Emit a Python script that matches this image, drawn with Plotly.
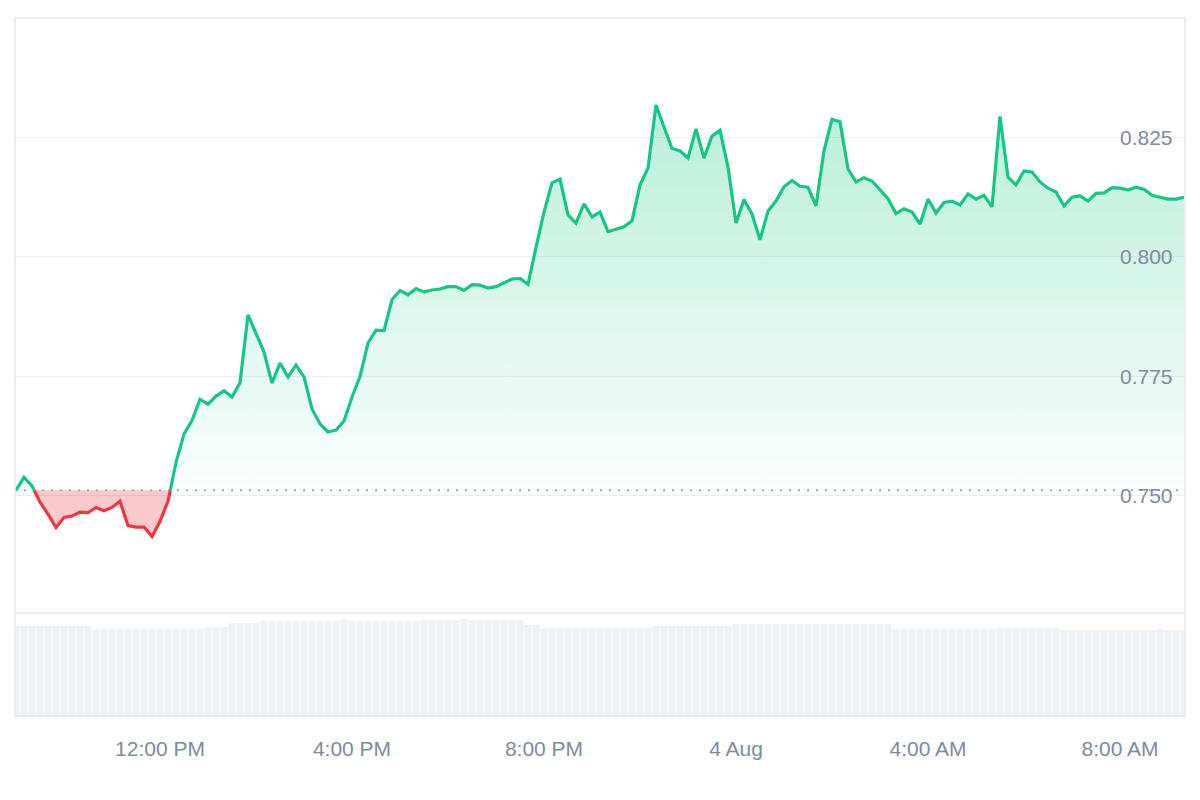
import pandas as pd
import plotly.graph_objects as go

# ---------------- data ----------------
start_time = "2024-08-03 09:00"
interval = "10min"

prices = [
    0.7511, 0.7538, 0.7520, 0.7486, 0.7461, 0.7433, 0.7454, 0.7457, 0.7465, 0.7464,
    0.7475, 0.7468, 0.7475, 0.7488, 0.7437, 0.7434, 0.7434, 0.7414, 0.7446, 0.7488,
    0.7569, 0.7629, 0.7657, 0.7701, 0.7691, 0.7708, 0.7719, 0.7706, 0.7736, 0.7878,
    0.7838, 0.7800, 0.7735, 0.7777, 0.7748, 0.7773, 0.7748, 0.7681, 0.7650, 0.7633,
    0.7637, 0.7656, 0.7706, 0.7749, 0.7819, 0.7846, 0.7845, 0.7910, 0.7929, 0.7920,
    0.7933, 0.7926, 0.7930, 0.7932, 0.7937, 0.7937, 0.7929, 0.7941, 0.7940, 0.7934,
    0.7937, 0.7945, 0.7953, 0.7954, 0.7942, 0.8019, 0.8093, 0.8154, 0.8162, 0.8087,
    0.8070, 0.8110, 0.8083, 0.8093, 0.8052, 0.8057, 0.8062, 0.8075, 0.8150, 0.8185,
    0.8317, 0.8271, 0.8226, 0.8221, 0.8206, 0.8267, 0.8206, 0.8252, 0.8264, 0.8187,
    0.8070, 0.8119, 0.8089, 0.8035, 0.8095, 0.8116, 0.8146, 0.8159, 0.8147, 0.8145,
    0.8106, 0.8221, 0.8287, 0.8282, 0.8183, 0.8156, 0.8165, 0.8158, 0.8139, 0.8121,
    0.8090, 0.8100, 0.8093, 0.8068, 0.8120, 0.8091, 0.8113, 0.8116, 0.8108, 0.8131,
    0.8120, 0.8128, 0.8104, 0.8293, 0.8166, 0.8150, 0.8179, 0.8177, 0.8156, 0.8143,
    0.8135, 0.8106, 0.8124, 0.8127, 0.8116, 0.8132, 0.8133, 0.8144, 0.8143, 0.8139,
    0.8145, 0.8141, 0.8128, 0.8124, 0.8120, 0.8120, 0.8124,
]

volumes = [
    9.0, 9.0, 9.0, 9.0, 9.0, 9.0, 9.0, 9.0, 9.0, 9.0,
    8.7, 8.7, 8.7, 8.7, 8.7, 8.7, 8.7, 8.7, 8.7, 8.7, 8.7, 8.7, 8.7, 8.7,
    8.9, 8.9, 8.9,
    9.3, 9.3, 9.3, 9.3,
    9.5, 9.5, 9.5, 9.5, 9.5, 9.5, 9.5, 9.5, 9.5, 9.5, 9.7, 9.5, 9.5, 9.5, 9.5,
    9.5, 9.5, 9.5, 9.5, 9.5,
    9.6, 9.6, 9.6, 9.6, 9.6, 9.7, 9.6, 9.6, 9.6, 9.6, 9.6, 9.6, 9.6,
    9.1, 9.1,
    8.8, 8.8, 8.8, 8.8, 8.8, 8.8, 8.8, 8.8, 8.8, 8.8, 8.8, 8.8, 8.8, 8.8,
    9.0, 9.0, 9.0, 9.0, 9.0, 9.0, 9.0, 9.0, 9.0, 9.0,
    9.2, 9.2, 9.2, 9.2, 9.2, 9.2, 9.2, 9.2, 9.2, 9.2, 9.2, 9.2, 9.2, 9.2, 9.2,
    9.2, 9.2, 9.2, 9.2, 9.2,
    8.7, 8.7, 8.7, 8.7, 8.7, 8.7, 8.7, 8.7, 8.7, 8.7, 8.7, 8.7, 8.7,
    8.8, 8.8, 8.8, 8.8, 8.8, 8.8, 8.8, 8.8,
    8.6, 8.6, 8.6, 8.6, 8.6, 8.6, 8.6, 8.6, 8.6, 8.6, 8.6, 8.6, 8.7, 8.6, 8.6, 8.6,
]

y_tickvals = [0.750, 0.775, 0.800, 0.825]
y_ticktext = ["0.750", "0.775", "0.800", "0.825"]

x_tickvals = ["2024-08-03 12:00", "2024-08-03 16:00", "2024-08-03 20:00",
              "2024-08-04 00:00", "2024-08-04 04:00", "2024-08-04 08:00"]
x_ticktext = ["12:00 PM", "4:00 PM", "8:00 PM", "4 Aug", "4:00 AM", "8:00 AM"]

x_range = ["2024-08-03 08:58:45", "2024-08-04 09:21:15"]

# ---------------- derived ----------------
times = pd.date_range(start_time, periods=len(prices), freq=interval)
baseline = prices[0]

# insert baseline crossings so that colours switch exactly at the baseline
aug_t, aug_p = [times[0]], [prices[0]]
for i in range(1, len(prices)):
    p0, p1 = prices[i - 1], prices[i]
    if (p0 - baseline) * (p1 - baseline) < 0:
        f = (baseline - p0) / (p1 - p0)
        aug_t.append(times[i - 1] + (times[i] - times[i - 1]) * f)
        aug_p.append(baseline)
    aug_t.append(times[i])
    aug_p.append(p1)

up_line = [p if p >= baseline else None for p in aug_p]
dn_line = [p if p <= baseline else None for p in aug_p]
up_fill = [max(p, baseline) for p in aug_p]
dn_fill = [min(p, baseline) for p in aug_p]
base_arr = [baseline] * len(aug_p)

GREEN = "#16c784"
RED = "#ea3943"
TXT = "#808a9d"
FONT = "Liberation Sans, Arial, sans-serif"

fig = go.Figure()

# volume bars
fig.add_trace(go.Bar(x=times, y=volumes, yaxis="y2", marker=dict(color="#eff2f5", line=dict(width=0)),
                     hoverinfo="skip", showlegend=False))

# green gradient fill
fig.add_trace(go.Scatter(x=aug_t, y=base_arr, mode="lines", line=dict(width=0, color="rgba(0,0,0,0)"),
                         hoverinfo="skip", showlegend=False))
fig.add_trace(go.Scatter(x=aug_t, y=up_fill, mode="lines", line=dict(width=0, color="rgba(0,0,0,0)"),
                         fill="tonexty",
                         fillgradient=dict(type="vertical", start=baseline, stop=max(prices),
                                           colorscale=[[0, "rgba(22,199,132,0.02)"],
                                                       [1, "rgba(22,199,132,0.30)"]]),
                         hoverinfo="skip", showlegend=False))
# red fill
fig.add_trace(go.Scatter(x=aug_t, y=base_arr, mode="lines", line=dict(width=0, color="rgba(0,0,0,0)"),
                         hoverinfo="skip", showlegend=False))
fig.add_trace(go.Scatter(x=aug_t, y=dn_fill, mode="lines", line=dict(width=0, color="rgba(0,0,0,0)"),
                         fill="tonexty", fillcolor="rgba(234,57,67,0.27)",
                         hoverinfo="skip", showlegend=False))

# lines
fig.add_trace(go.Scatter(x=aug_t, y=up_line, mode="lines", line=dict(color=GREEN, width=3.2),
                         connectgaps=False, showlegend=False))
fig.add_trace(go.Scatter(x=aug_t, y=dn_line, mode="lines", line=dict(color=RED, width=3.2),
                         connectgaps=False, showlegend=False))

vol_split = 103 / 698

# price labels drawn inside the plot, at the right edge
annotations = [
    dict(xref="paper", yref="y", x=1, y=v, text=t, showarrow=False,
         xanchor="right", yanchor="middle", xshift=-10,
         font=dict(size=21, color=TXT, family=FONT))
    for v, t in zip(y_tickvals, y_ticktext)
]

fig.update_layout(
    width=1200, height=800,
    margin=dict(l=15, r=15, t=18, b=84),
    paper_bgcolor="white", plot_bgcolor="white",
    bargap=0.08,
    font=dict(family=FONT, color=TXT, size=21),
    xaxis=dict(type="date", range=x_range, anchor="y2",
               tickvals=x_tickvals, ticktext=x_ticktext,
               showgrid=False, zeroline=False, showline=False,
               ticks="outside", ticklen=14, tickcolor="rgba(0,0,0,0)",
               tickfont=dict(size=21, color=TXT, family=FONT)),
    yaxis=dict(domain=[vol_split, 1], range=[0.72542, 0.8499], side="right",
               tickvals=y_tickvals, showticklabels=False,
               showgrid=True, gridcolor="#eeeff1", gridwidth=1,
               zeroline=False, showline=False),
    yaxis2=dict(domain=[0, vol_split], range=[0, 10.3], showgrid=False, zeroline=False,
                showticklabels=False, showline=False),
    annotations=annotations,
    shapes=[
        dict(type="line", xref="paper", yref="y", x0=0, x1=1, y0=baseline, y1=baseline,
             line=dict(color="#8e949c", width=1.5, dash="2px,7px"), layer="above"),
        dict(type="line", xref="paper", yref="paper", x0=0, x1=1, y0=vol_split, y1=vol_split,
             line=dict(color="#e8eaed", width=1.5), layer="above"),
        dict(type="rect", xref="paper", yref="paper", x0=0, x1=1, y0=0, y1=1,
             line=dict(color="#e6e7e9", width=1.5), layer="above"),
    ],
)

fig.write_html("out.html")
